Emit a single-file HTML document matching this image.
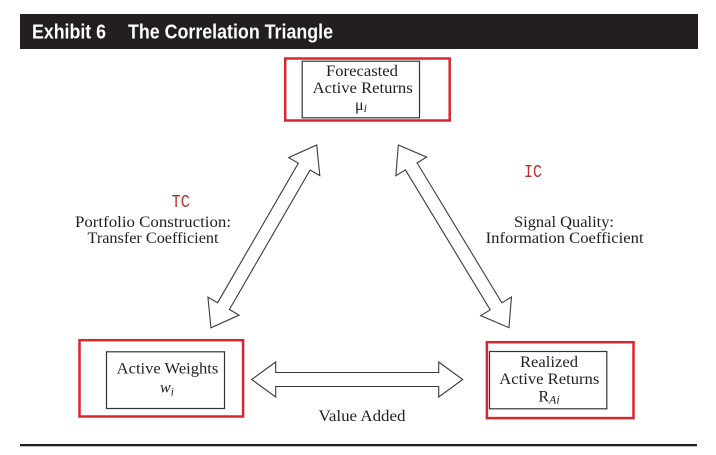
<!DOCTYPE html>
<html>
<head>
<meta charset="utf-8">
<style>
  html, body { margin:0; padding:0; background:#ffffff; }
  body { width:716px; height:455px; overflow:hidden; }
  svg { display:block; }
  .serif { font-family:"Liberation Serif", "DejaVu Serif", serif; font-size:16px; fill:#1e1e1e; }
  .hdr { font-family:"Liberation Sans", "DejaVu Sans", sans-serif; font-weight:bold; font-size:20px; fill:#ffffff; }
  .mono { font-family:"Liberation Mono", "DejaVu Sans Mono", monospace; font-size:18px; fill:#b8312f; }
  .arrow { fill:#ffffff; stroke:#3a3a3a; stroke-width:1.1; stroke-linejoin:miter; }
</style>
</head>
<body>
<svg width="716" height="455" viewBox="0 0 716 455" xmlns="http://www.w3.org/2000/svg">
  <!-- Header bar -->
  <rect x="20" y="14" width="678" height="35" fill="#231f20"/>
  <text class="hdr" x="32" y="38.5" textLength="74" lengthAdjust="spacingAndGlyphs">Exhibit 6</text>
  <text class="hdr" x="128" y="38.5" textLength="205" lengthAdjust="spacingAndGlyphs">The Correlation Triangle</text>

  <!-- Top node -->
  <rect x="285.2" y="58.5" width="164.5" height="62" fill="none" stroke="#d8262f" stroke-width="2.5"/>
  <rect x="302.2" y="61.2" width="117.3" height="56.6" fill="none" stroke="#333" stroke-width="1.2"/>
  <text class="serif" x="362" y="76" text-anchor="middle" textLength="72" lengthAdjust="spacingAndGlyphs">Forecasted</text>
  <text class="serif" x="362.7" y="93" text-anchor="middle" textLength="100" lengthAdjust="spacingAndGlyphs">Active Returns</text>
  <text class="serif" x="361" y="110" text-anchor="middle">μ<tspan font-style="italic" font-size="12" dy="2">i</tspan></text>

  <!-- Left node -->
  <rect x="79.5" y="340.2" width="163.6" height="76.3" fill="none" stroke="#d8262f" stroke-width="2.5"/>
  <rect x="106.5" y="351.8" width="118" height="56.7" fill="none" stroke="#333" stroke-width="1.2"/>
  <text class="serif" x="167.5" y="373.5" text-anchor="middle" textLength="101.6" lengthAdjust="spacingAndGlyphs">Active Weights</text>
  <text class="serif" x="167" y="392.5" text-anchor="middle"><tspan font-style="italic">w</tspan><tspan font-style="italic" font-size="12" dy="3">i</tspan></text>

  <!-- Right node -->
  <rect x="486.9" y="342.2" width="146.6" height="75.9" fill="none" stroke="#d8262f" stroke-width="2.5"/>
  <rect x="489.5" y="351.5" width="117.3" height="57.3" fill="none" stroke="#333" stroke-width="1.2"/>
  <text class="serif" x="549" y="367" text-anchor="middle" textLength="58" lengthAdjust="spacingAndGlyphs">Realized</text>
  <text class="serif" x="549.3" y="384" text-anchor="middle" textLength="100" lengthAdjust="spacingAndGlyphs">Active Returns</text>
  <text class="serif" x="549" y="401.5" text-anchor="middle">R<tspan font-style="italic" font-size="12" dy="2">Ai</tspan></text>

  <!-- Left diagonal arrow -->
  <polygon class="arrow" transform="translate(263.85,236.35) rotate(-59.95)"
    points="-105.6,0 -80.6,-18 -80.6,-6.8 80.6,-6.8 80.6,-18 105.6,0 80.6,18 80.6,6.8 -80.6,6.8 -80.6,18"/>
  <!-- Right diagonal arrow -->
  <polygon class="arrow" transform="translate(453.65,236.35) rotate(58.79)"
    points="-106.8,0 -81.8,-18 -81.8,-6.8 81.8,-6.8 81.8,-18 106.8,0 81.8,18 81.8,6.8 -81.8,6.8 -81.8,18"/>
  <!-- Horizontal arrow -->
  <polygon class="arrow" transform="translate(357.2,379.5)"
    points="-105.5,0 -81.5,-17.5 -81.5,-7 81.5,-7 81.5,-17.5 105.5,0 81.5,17.5 81.5,7 -81.5,7 -81.5,17.5"/>

  <!-- Labels -->
  <text class="mono" x="171.5" y="207" textLength="18.5" lengthAdjust="spacingAndGlyphs">TC</text>
  <text class="serif" x="153" y="227" text-anchor="middle" textLength="156" lengthAdjust="spacingAndGlyphs">Portfolio Construction:</text>
  <text class="serif" x="153" y="243" text-anchor="middle" textLength="131" lengthAdjust="spacingAndGlyphs">Transfer Coefficient</text>

  <text class="mono" x="524" y="177" textLength="18" lengthAdjust="spacingAndGlyphs">IC</text>
  <text class="serif" x="564" y="227" text-anchor="middle" textLength="100" lengthAdjust="spacingAndGlyphs">Signal Quality:</text>
  <text class="serif" x="564.6" y="243" text-anchor="middle" textLength="158" lengthAdjust="spacingAndGlyphs">Information Coefficient</text>

  <text class="serif" x="362" y="421" text-anchor="middle" textLength="87" lengthAdjust="spacingAndGlyphs">Value Added</text>

  <!-- Bottom rule -->
  <rect x="20" y="444" width="677" height="2.3" fill="#231f20"/>
</svg>
</body>
</html>
